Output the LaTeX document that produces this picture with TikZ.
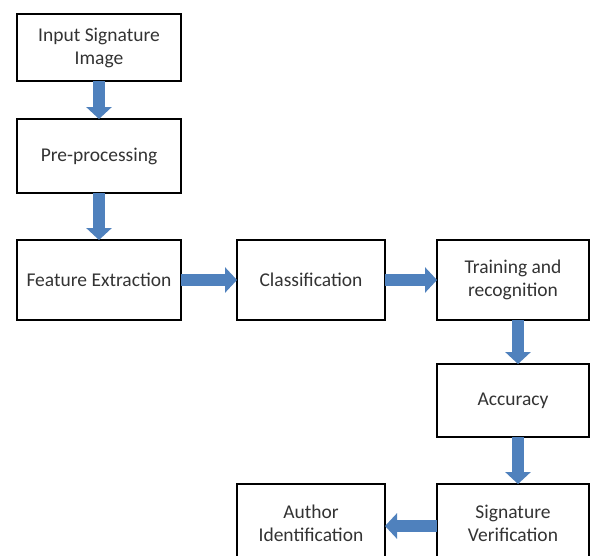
\documentclass[tikz,border=0pt]{standalone}
\usepackage{fontspec}
\setmainfont{Carlito}
\usetikzlibrary{arrows.meta}
\definecolor{flowblue}{HTML}{4F81BD}
\tikzset{
  stepbox/.style={draw=black, line width=1.3pt, fill=white, align=center,
    text=black!80, font=\fontsize{19.5}{23}\selectfont, inner sep=2pt, outer sep=0pt},
  flowarrow/.style={draw=flowblue, line width=12pt, line cap=butt,
    -{Triangle[width=25pt,length=12pt]}},
}
\begin{document}
\begin{tikzpicture}[x=1pt,y=-1pt]
% Set the page frame
\clip (0,0) rectangle (591,555);
\fill[white] (0,0) rectangle (591,555);

% Draw the boxes of the flow
\node[stepbox, minimum width=164pt, minimum height=67pt] (input) at (99,47.5) {Input Signature\\Image};
\node[stepbox, minimum width=164pt, minimum height=74pt] (prep) at (99,156) {Pre-processing};
\node[stepbox, minimum width=164pt, minimum height=80pt] (feat) at (99,280) {Feature Extraction};
\node[stepbox, minimum width=148pt, minimum height=80pt] (class) at (311,280) {Classification};
\node[stepbox, minimum width=152pt, minimum height=80pt] (train) at (513,280) {Training and\\recognition};
\node[stepbox, minimum width=152pt, minimum height=73pt] (acc) at (513,400.5) {Accuracy};
\node[stepbox, minimum width=152pt, minimum height=78pt] (verif) at (513,523) {Signature\\Verification};
\node[stepbox, minimum width=148pt, minimum height=78pt] (author) at (311,523) {Author\\Identification};

% Draw the arrows between the boxes
\draw[flowarrow] (input) -- (prep);
\draw[flowarrow] (prep) -- (feat);
\draw[flowarrow] (feat) -- (class);
\draw[flowarrow] (class) -- (train);
\draw[flowarrow] ([xshift=5pt]train.south) -- ([xshift=5pt]acc.north);
\draw[flowarrow] ([xshift=5pt]acc.south) -- ([xshift=5pt]verif.north);
\draw[flowarrow] ([yshift=-3pt]verif.west) -- ([yshift=-3pt]author.east);
\end{tikzpicture}
\end{document}
